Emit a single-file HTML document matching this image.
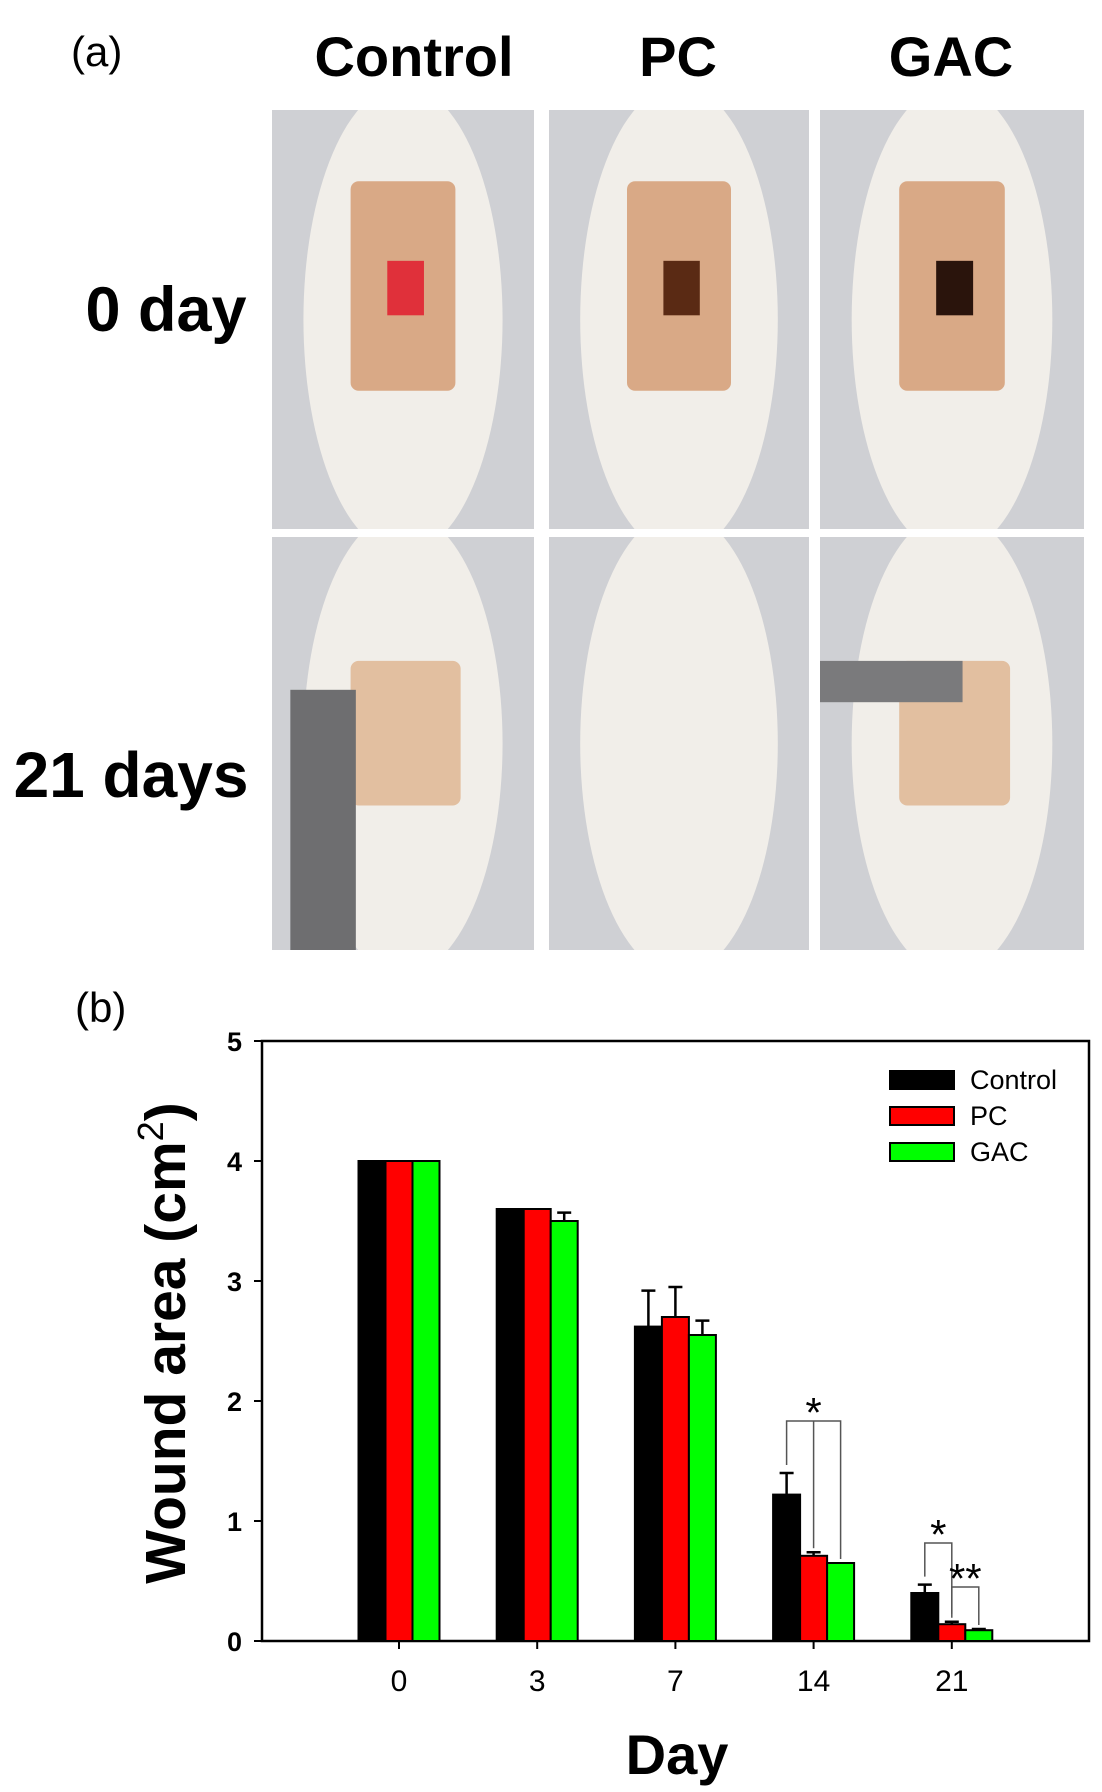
<!DOCTYPE html>
<html><head><meta charset="utf-8"><style>
html,body{margin:0;padding:0;background:#fff;}
svg{display:block;font-family:"Liberation Sans",Arial,sans-serif;}
</style></head><body>
<svg id="fig" width="1102" height="1792" viewBox="0 0 1102 1792" xmlns="http://www.w3.org/2000/svg">
<defs id="defs"></defs>
<g>
<text x="71" y="66" font-size="42">(a)</text>
<text x="414" y="76" font-size="56" font-weight="bold" text-anchor="middle">Control</text>
<text x="678" y="76" font-size="56" font-weight="bold" text-anchor="middle">PC</text>
<text x="951" y="76" font-size="56" font-weight="bold" text-anchor="middle">GAC</text>
<text x="166" y="331" font-size="63" font-weight="bold" text-anchor="middle">0 day</text>
<text x="131" y="797" font-size="64" font-weight="bold" text-anchor="middle">21 days</text>
<g id="photos"></g>
</g>
<g>
<text x="75" y="1022" font-size="42">(b)</text>
<g id="chart"></g>
</g>
</svg>
<script>
const days = ['0','3','7','14','21'];
const controlVals = [4.0, 3.6, 2.62, 1.22, 0.40];
const pcVals = [4.0, 3.6, 2.70, 0.71, 0.14];
const gacVals = [4.0, 3.5, 2.55, 0.65, 0.09];
const controlErr = [0, 0, 0.30, 0.18, 0.07];
const pcErr = [0, 0, 0.25, 0.03, 0.02];
const gacErr = [0, 0.07, 0.12, 0, 0.01];
const yTicks = [0, 1, 2, 3, 4, 5];
const seriesNames = ['Control', 'PC', 'GAC'];
const seriesColors = ['#000000', '#ff0000', '#00ff00'];

const NS = 'http://www.w3.org/2000/svg';
function mk(tag, attrs, parent) {
  const e = document.createElementNS(NS, tag);
  for (const k in attrs) e.setAttribute(k, attrs[k]);
  parent.appendChild(e);
  return e;
}

// photos
const photos = document.getElementById('photos');
const defs = document.getElementById('defs');
const cols = [[272, 534], [549, 809], [820, 1084]];
const rows = [[110, 529], [537, 950]];
const wounds = ['#e0303a', '#5a2a14', '#2a140c'];
rows.forEach((r, ri) => cols.forEach((c, ci) => {
  const w = c[1] - c[0], h = r[1] - r[0];
  const cp = mk('clipPath', {id: 'cp' + ri + ci}, defs);
  mk('rect', {x: c[0], y: r[0], width: w, height: h}, cp);
  const g = mk('g', {'clip-path': 'url(#cp' + ri + ci + ')'}, photos);
  
  
  mk('rect', {x: c[0], y: r[0], width: w, height: h, fill: '#cfd0d4'}, g);
  mk('ellipse', {cx: c[0] + w * 0.5, cy: r[0] + h * 0.5, rx: w * 0.38, ry: h * 0.56, fill: '#f1eee9'}, g);
  if (ri === 0) {
    mk('rect', {x: c[0] + w * 0.3, y: r[0] + h * 0.17, width: w * 0.4, height: h * 0.5, rx: 8, fill: '#d9a986'}, g);
    mk('rect', {x: c[0] + w * 0.44, y: r[0] + h * 0.36, width: w * 0.14, height: h * 0.13, fill: wounds[ci]}, g);
  } else {
    if (ci !== 1) mk('rect', {x: c[0] + w * 0.3, y: r[0] + h * 0.3, width: w * 0.42, height: h * 0.35, rx: 8, fill: '#e2bfa0'}, g);
    if (ci === 0) mk('rect', {x: c[0] + w * 0.07, y: r[0] + h * 0.37, width: w * 0.25, height: h * 0.63, fill: '#6e6e70'}, g);
    if (ci === 2) mk('rect', {x: c[0], y: r[0] + h * 0.3, width: w * 0.54, height: h * 0.1, fill: '#7a7a7c'}, g);
  }
}));

// chart
const chart = document.getElementById('chart');
const L = 262, R = 1089, T = 1041, B = 1641;
const yMax = 5;
const yPix = v => B - (v / yMax) * (B - T);
const xStart = 399, xStep = 138.2;
const xCenter = i => xStart + i * xStep;
const barW = 27;

mk('rect', {x: L, y: T, width: R - L, height: B - T, fill: 'none', stroke: '#000', 'stroke-width': 2.5}, chart);

yTicks.forEach(t => {
  const y = yPix(t);
  const tk = mk('line', {x1: L - 8, x2: L, y1: y, y2: y, stroke: '#000', 'stroke-width': 2}, chart);
  
  
  const lb = mk('text', {x: L - 20, y: y + 10, 'font-size': 27, 'font-weight': 'bold', 'text-anchor': 'end'}, chart);
  lb.textContent = t;
  
  
});

days.forEach((d, i) => {
  const x = xCenter(i);
  const tk = mk('line', {x1: x, x2: x, y1: B, y2: B + 8, stroke: '#000', 'stroke-width': 2}, chart);
  
  
  const lb = mk('text', {x: x, y: B + 50, 'font-size': 30, 'text-anchor': 'middle'}, chart);
  lb.textContent = d;
  
  
});

const vals = [controlVals, pcVals, gacVals];
const errs = [controlErr, pcErr, gacErr];
vals.forEach((arr, s) => {
  arr.forEach((v, i) => {
    const x = xCenter(i) + (s - 1.5) * barW;
    const y = yPix(v);
    const b = mk('rect', {x: x, y: y, width: barW, height: B - y, fill: seriesColors[s], stroke: '#000', 'stroke-width': 2}, chart);
    
    
    const e = errs[s][i];
    if (e > 0) {
      const cx = x + barW / 2, ye = yPix(v + e);
      const eb = mk('path', {d: `M${cx},${y}V${ye}M${cx - 7},${ye}H${cx + 7}`, stroke: '#000', 'stroke-width': 2.5, fill: 'none'}, chart);
      
      
    }
  });
});

// significance brackets
function bracket(i, sa, sb, yTop, label, name) {
  const xa = xCenter(i) + (sa - 1) * barW, xb = xCenter(i) + (sb - 1) * barW;
  const ya = yPix(vals[sa][i] + errs[sa][i]) - 8, yb = yPix(vals[sb][i] + errs[sb][i]) - 4;
  const p = mk('path', {d: `M${xa},${ya}V${yTop}H${xb}V${yb}`, stroke: '#555', 'stroke-width': 1.5, fill: 'none'}, chart);
  
  
  const t = mk('text', {x: (xa + xb) / 2, y: yTop + 6, 'font-size': 42, 'text-anchor': 'middle'}, chart);
  t.textContent = label;
  
  
}
bracket(3, 0, 2, 1421, '*', 'significance-day14');
const mid3 = xCenter(3);
const ml = mk('line', {x1: mid3, x2: mid3, y1: 1421, y2: yPix(pcVals[3] + pcErr[3]) - 4, stroke: '#555', 'stroke-width': 1.5}, chart);


bracket(4, 0, 1, 1543, '*', 'significance-day21-control-pc');
bracket(4, 1, 2, 1587, '**', 'significance-day21-pc-gac');

// legend
seriesNames.forEach((n, s) => {
  const y = 1071 + s * 36;
  const r = mk('rect', {x: 890, y: y, width: 64, height: 18, fill: seriesColors[s], stroke: '#000', 'stroke-width': 2}, chart);
  
  
  const t = mk('text', {x: 970, y: y + 18, 'font-size': 27}, chart);
  t.textContent = n;
  
  
});

// axis titles
const yt = mk('text', {x: 0, y: 0, 'font-size': 57, 'font-weight': 'bold', 'text-anchor': 'middle', transform: 'translate(185,1343) rotate(-90)'}, chart);
yt.innerHTML = 'Wound area (cm<tspan dy="-22" font-size="36" font-weight="normal">2</tspan><tspan dy="22">)</tspan>';


const xt = mk('text', {x: 677, y: 1774, 'font-size': 56, 'font-weight': 'bold', 'text-anchor': 'middle'}, chart);
xt.textContent = 'Day';


</script>
</body></html>
